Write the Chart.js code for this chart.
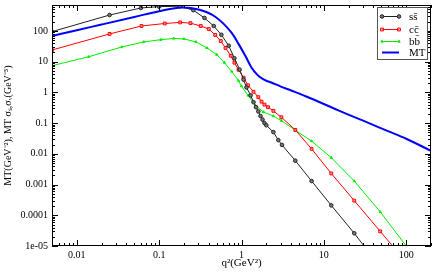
<!DOCTYPE html>
<html>
<head>
<meta charset="utf-8">
<script src="https://cdn.jsdelivr.net/npm/chart.js@4"></script>
<style>
  body { margin: 0; background: #fff; }
</style>
</head>
<body>
<canvas id="mtChart" width="436" height="273"></canvas>
<script>
// q^2 (GeV^2) and values
const ssQ = [0.005, 0.025, 0.06, 0.1, 0.18, 0.26, 0.355, 0.46, 0.57, 0.70, 0.82, 0.95, 1.06, 1.15, 1.29, 1.4, 1.5, 1.6, 1.7, 1.8, 1.9, 2.0, 2.44, 2.8, 3.1, 4.5, 7.1, 12.3, 23.4, 40]
const ssV = [95, 330, 560, 620, 640, 475, 265, 145, 75, 33, 13, 5.5, 2.6, 1.45, 0.8, 0.48, 0.33, 0.24, 0.17, 0.13, 0.1, 0.085, 0.051, 0.028, 0.0195, 0.006, 0.0013, 2.1e-4, 2.6e-5, 4e-6]

const ccQ = [0.005, 0.025, 0.061, 0.117, 0.18, 0.24, 0.32, 0.40, 0.48, 0.56, 0.64, 0.74, 0.82, 0.92, 1.06, 1.2, 1.4, 1.6, 1.75, 1.9, 2.1, 2.44, 3.05, 4.5, 7.1, 12.3, 23.4, 48.3, 100]
const ccV = [24, 80, 145, 175, 190, 180, 145, 116, 74, 47, 28, 15.6, 9.3, 5.5, 3.0, 1.7, 1.05, 0.7, 0.5, 0.4, 0.33, 0.25, 0.155, 0.06, 0.0145, 0.0023, 3.0e-4, 3.0e-5, 3e-6]

const bbQ = [0.005, 0.014, 0.035, 0.065, 0.105, 0.15, 0.2, 0.28, 0.38, 0.5, 0.62, 0.76, 0.92, 1.0, 1.2, 1.47, 1.85, 2.44, 3.05, 4.5, 7.1, 12.3, 23.4, 48.3, 100, 200]
const bbV = [7.4, 14.5, 30, 44, 52, 57, 55, 44, 28, 17, 9.3, 4.8, 2.4, 1.6, 0.8, 0.38, 0.23, 0.17, 0.12, 0.059, 0.026, 0.0075, 0.0013, 1.3e-4, 1.0e-5, 9e-7]

const mtQ = [0.005, 0.01, 0.02, 0.05, 0.1, 0.19, 0.3, 0.48, 0.76, 0.92, 1.12, 1.32, 1.55, 1.75, 2.0, 2.3, 3, 4, 6, 10, 15, 30, 60, 100, 200]
const mtV = [69, 106, 162, 285, 440, 580, 500, 290, 86, 38, 15, 6.5, 3.8, 2.9, 2.4, 2.1, 1.55, 1.15, 0.75, 0.42, 0.26, 0.12, 0.055, 0.031, 0.0125]

const seriesNames = ['ss\u0304', 'cc\u0304', 'bb\u0304', 'MT']

const xTicks = [0.01, 0.1, 1, 10, 100]
const xTickLabels = ['0.01', '0.1', '1', '10', '100']
const yTicks = [1e-5, 1e-4, 1e-3, 0.01, 0.1, 1, 10, 100]
const yTickLabels = ['1e-05', '0.0001', '0.001', '0.01', '0.1', '1', '10', '100']

const pts = (qs, vs) => qs.map((q, i) => ({ x: q, y: vs[i] }))
const serif = 'Liberation Serif, Times New Roman, serif'

const styles = [
  { color: '#222', point: 'circle', r: 1.8, fill: '#777', lw: 1 },
  { color: '#ff0000', point: 'rect', r: 2, fill: 'rgba(255,150,150,0.6)', lw: 1 },
  { color: '#00ee00', point: 'triangle', r: 1.3, fill: '#00ee00', lw: 1 },
  { color: '#0000ff', point: false, r: 0, fill: '#0000ff', lw: 2 }
]

// inward ticks, frame and the boxed legend
const framePlugin = {
  id: 'frame',
  afterDraw(chart) {
    const { ctx, chartArea: a, scales: { x, y } } = chart
    ctx.save()
    ctx.strokeStyle = '#000'
    ctx.lineWidth = 1
    ctx.strokeRect(a.left + 0.5, a.top + 0.5, a.right - a.left - 1, a.bottom - a.top - 1)

    const logTicks = (scale) => {
      const out = []
      for (let e = Math.floor(Math.log10(scale.min)); e <= Math.ceil(Math.log10(scale.max)); e++) {
        for (let k = 1; k < 10; k++) {
          const v = k * Math.pow(10, e)
          if (v >= scale.min * 0.999 && v <= scale.max * 1.001) out.push([v, k === 1])
        }
      }
      return out
    }
    ctx.beginPath()
    logTicks(x).forEach(([v, major]) => {
      const px = Math.round(x.getPixelForValue(v)) + 0.5
      const len = major ? 6 : 3
      ctx.moveTo(px, a.bottom); ctx.lineTo(px, a.bottom - len)
      ctx.moveTo(px, a.top); ctx.lineTo(px, a.top + len)
    })
    logTicks(y).forEach(([v, major]) => {
      const py = Math.round(y.getPixelForValue(v)) + 0.5
      const len = major ? 6 : 3
      ctx.moveTo(a.left, py); ctx.lineTo(a.left + len, py)
      ctx.moveTo(a.right, py); ctx.lineTo(a.right - len, py)
    })
    ctx.stroke()

    // legend box
    const bx = 377, by = 7, bw = 50, bh = 52
    ctx.fillStyle = '#fff'
    ctx.fillRect(bx, by, bw, bh)
    ctx.strokeStyle = '#555'
    ctx.strokeRect(bx + 0.5, by + 0.5, bw, bh)
    ctx.font = '11px ' + serif
    ctx.textBaseline = 'middle'
    const rows = [16, 29, 41, 52]
    chart.data.datasets.forEach((ds, i) => {
      const st = styles[i]
      const ly = rows[i] + 0.5
      ctx.strokeStyle = st.color
      ctx.lineWidth = st.lw
      ctx.beginPath(); ctx.moveTo(382, ly); ctx.lineTo(399, ly); ctx.stroke()
      if (st.point) {
        const opts = { pointStyle: st.point, radius: st.r, borderWidth: 1 }
        ctx.fillStyle = st.fill
        ctx.lineWidth = 1
        Chart.helpers.drawPoint(ctx, opts, 382, ly)
        ctx.fillStyle = st.fill
        Chart.helpers.drawPoint(ctx, opts, 399, ly)
      }
      ctx.fillStyle = '#000'
      ctx.fillText(ds.label, 409, rows[i] + 1)
    })
    ctx.restore()
  }
}

const datasets = [pts(ssQ, ssV), pts(ccQ, ccV), pts(bbQ, bbV), pts(mtQ, mtV)].map((data, i) => {
  const st = styles[i]
  return {
    label: seriesNames[i],
    data: data,
    borderColor: st.color,
    borderWidth: st.lw,
    backgroundColor: st.fill,
    pointStyle: st.point,
    pointRadius: st.r,
    pointBorderColor: st.color,
    pointBorderWidth: 1,
    tension: i === 3 ? 0.4 : 0,
    cubicInterpolationMode: i === 3 ? 'monotone' : 'default',
    order: i === 3 ? -1 : i
  }
})

new Chart(document.getElementById('mtChart'), {
  type: 'line',
  data: { datasets: datasets },
  plugins: [framePlugin],
  options: {
    responsive: false,
    animation: false,
    layout: { padding: { top: 1, right: 2, left: 0, bottom: 0 } },
    plugins: { legend: { display: false }, tooltip: { enabled: false } },
    scales: {
      x: {
        type: 'logarithmic',
        min: 0.005,
        max: 200,
        grid: { display: false, drawTicks: false },
        border: { display: false },
        afterBuildTicks: (s) => { s.ticks = xTicks.map(v => ({ value: v })) },
        afterFit: (s) => { s.height = 27; s.paddingLeft = 0; s.paddingRight = 0 },
        ticks: {
          autoSkip: false,
          maxRotation: 0,
          padding: 3,
          color: '#000',
          font: { family: serif, size: 10 },
          callback: (v, i) => xTickLabels[i]
        },
        title: {
          display: true,
          text: 'q\u00b2(GeV\u00b2)',
          color: '#000',
          font: { family: serif, size: 11 },
          padding: { top: 0, bottom: 3 }
        }
      },
      y: {
        type: 'logarithmic',
        min: 1e-5,
        max: 700,
        grid: { display: false, drawTicks: false },
        border: { display: false },
        afterBuildTicks: (s) => { s.ticks = yTicks.map(v => ({ value: v })) },
        afterFit: (s) => { s.width = 52; s.paddingTop = 0; s.paddingBottom = 0 },
        ticks: {
          autoSkip: false,
          padding: 4,
          color: '#000',
          font: { family: serif, size: 10 },
          callback: (v, i) => yTickLabels[i]
        },
        title: {
          display: true,
          text: 'MT(GeV\u207b\u00b2), MT \u03c3\u209b,\u03c3\u1d65(GeV\u207b\u2075)',
          color: '#000',
          font: { family: serif, size: 10 },
          padding: { top: 2, bottom: 2 }
        }
      }
    }
  }
})
</script>
</body>
</html>
